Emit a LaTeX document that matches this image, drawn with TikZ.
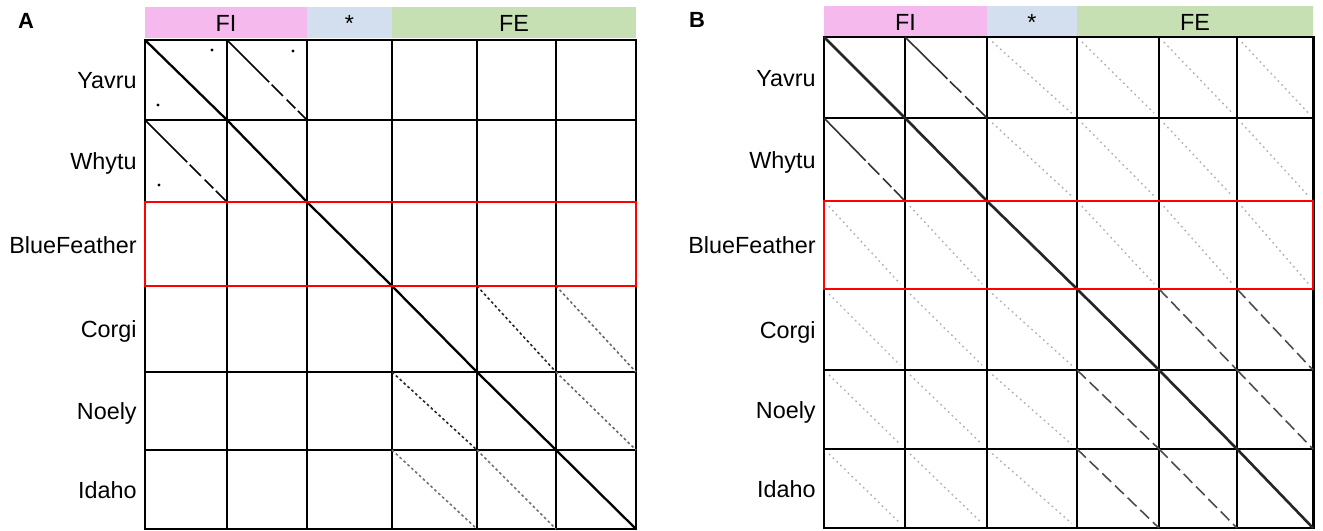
\documentclass[tikz,border=0pt]{standalone}
\usepackage{fontspec}
\setmainfont{Liberation Sans}
\usetikzlibrary{calc}
\definecolor{fipink}{RGB}{245,185,237}
\definecolor{starblue}{RGB}{211,223,239}
\definecolor{fegreen}{RGB}{198,224,180}
\tikzset{gridline/.style = {black, line width=0.7pt},
         frame/.style = {black, line width=1.7pt},
         selbox/.style = {red, line width=1.4pt},
         mainline/.style = {line width=1.3pt},
         hitline/.style = {line width=0.9pt, dash pattern=on 34pt off 2pt on 9pt off 3pt on 7pt off 2pt on 10pt off 2pt},
         dotline/.style = {line width=0.9pt, dash pattern=on 1.5pt off 1.5pt},
         faintline/.style = {black!30, line width=0.8pt, dash pattern=on 1pt off 2pt, shorten <=4pt, shorten >=4pt},
         rowlabel/.style = {anchor=base east, inner sep=0pt, font=\fontsize{13.3}{16}\selectfont},
         headlabel/.style = {anchor=base, inner sep=0pt, font=\fontsize{13.3}{16}\selectfont},
         panel/.style = {anchor=base, inner sep=0pt, font=\bfseries\fontsize{12.5}{15}\selectfont}}

\begin{document}
\begin{tikzpicture}[x=0.02cm, y=-0.02cm]
\useasboundingbox (0,0) rectangle (1323,531);

% panel A
\foreach \i/\x/\y in {0/145/40,1/227/120,2/307/202,3/392/286,4/477/372,5/556/450,6/636/529}
  \coordinate (A\i) at (\x,\y);

\fill[fipink] (145,7) rectangle (307,38);
\fill[starblue] (307,7) rectangle (392,38);
\fill[fegreen] (392,7) rectangle (636,38);
\node[headlabel] (AFI) at (226,31.5) {FI};
\node[headlabel] (Astar) at (349.5,31.5) {*};
\node[headlabel] (AFE) at (514,31.5) {FE};
\node[panel] (Alab) at (26,28) {A};

\foreach \n/\y in {Yavru/88.5,Whytu/169.5,BlueFeather/253,Corgi/337.5,Noely/419.5,Idaho/498}
  \node[rowlabel] (A\n) at (137,\y) {\n};

\foreach \i in {1,...,5} {
  \draw[gridline] (A\i |- A0) -- (A\i |- A6);
  \draw[gridline] (A0 |- A\i) -- (A6 |- A\i);
}
\draw[frame] (A0) rectangle (A6);

\foreach \c/\r in {1/0,0/1}
  \draw[hitline] (A\c |- A\r) -- (A\the\numexpr\c+1\relax |- A\the\numexpr\r+1\relax);
\foreach \c/\r/\shade in {4/3/85,3/4/85,5/3/60,5/4/60,3/5/55,4/5/55}
  \draw[dotline, black!\shade] (A\c |- A\r) -- (A\the\numexpr\c+1\relax |- A\the\numexpr\r+1\relax);
\draw[mainline] (A0) -- (A1) -- (A2) -- (A3) -- (A4) -- (A5) -- (A6);

\foreach \p in {(212,50),(293,51),(158,105),(159,185)}
  \fill \p circle[radius=0.9pt];

\draw[selbox] (A0 |- A2) rectangle (A6 |- A3);

% panel B
\foreach \i/\x/\y in {0/824/37,1/905/118,2/987/201,3/1077/289,4/1159/370,5/1237/449,6/1313/528}
  \coordinate (B\i) at (\x,\y);

\fill[fipink] (824,6) rectangle (987,36);
\fill[starblue] (987,6) rectangle (1077,36);
\fill[fegreen] (1077,6) rectangle (1313,36);
\node[headlabel] (BFI) at (905.5,30.5) {FI};
\node[headlabel] (Bstar) at (1032,30.5) {*};
\node[headlabel] (BFE) at (1195,30.5) {FE};
\node[panel] (Blab) at (697,27.5) {B};

\foreach \n/\y in {Yavru/86,Whytu/168,BlueFeather/253.5,Corgi/338,Noely/418,Idaho/497}
  \node[rowlabel] (B\n) at (816,\y) {\n};

\foreach \c/\r in {2/0,3/0,4/0,5/0,2/1,3/1,4/1,5/1,0/2,1/2,3/2,4/2,5/2,0/3,1/3,2/3,0/4,1/4,2/4,0/5,1/5,2/5}
  \draw[faintline] (B\c |- B\r) -- (B\the\numexpr\c+1\relax |- B\the\numexpr\r+1\relax);

\foreach \i in {1,...,5} {
  \draw[gridline] (B\i |- B0) -- (B\i |- B6);
  \draw[gridline] (B0 |- B\i) -- (B6 |- B\i);
}
\draw[frame] (B0) rectangle (B6);

\foreach \c/\r in {1/0,0/1}
  \draw[hitline, black!80] (B\c |- B\r) -- (B\the\numexpr\c+1\relax |- B\the\numexpr\r+1\relax);
\foreach \c/\r in {4/3,3/4,5/3,5/4,3/5,4/5}
  \draw[black!70, line width=0.9pt, dash pattern=on 7pt off 3pt] (B\c |- B\r) -- (B\the\numexpr\c+1\relax |- B\the\numexpr\r+1\relax);
\draw[mainline, black!85, line width=1.5pt] (B0) -- (B1) -- (B2) -- (B3) -- (B4) -- (B5) -- (B6);

\draw[selbox] (B0 |- B2) rectangle (B6 |- B3);
\end{tikzpicture}
\end{document}
